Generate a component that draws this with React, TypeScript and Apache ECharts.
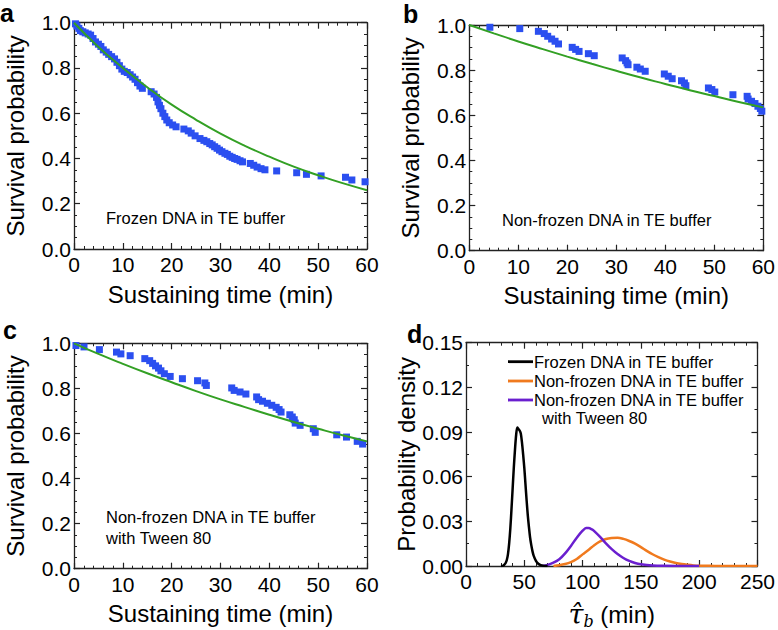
import React, { useEffect, useRef } from "react";
import * as echarts from "echarts";

// ---------- Panel a: frozen DNA in TE buffer ----------
const aTime = [0.3, 0.6, 1.0, 1.3, 1.8, 2.3, 2.9, 3.4, 3.9, 4.4, 5.0, 5.5, 6.0, 6.6, 7.1, 7.7, 8.3, 8.8, 9.3, 9.8, 10.3, 10.9, 11.5, 12.0, 12.5, 13.0, 13.5, 14.0, 15.8, 16.4, 16.9, 17.2, 17.5, 17.8, 18.2, 18.6, 19.0, 19.5, 20.2, 20.9, 22.5, 23.4, 24.0, 24.8, 25.8, 26.6, 27.2, 27.8, 28.3, 28.8, 29.3, 29.8, 30.3, 30.9, 31.4, 31.9, 32.4, 32.9, 33.4, 34.0, 34.5, 36.1, 36.8, 37.5, 38.3, 39.1, 41.5, 45.6, 47.6, 50.6, 55.6, 56.9, 59.6];
const aSurv = [0.995, 0.985, 0.975, 0.965, 0.96, 0.955, 0.95, 0.945, 0.93, 0.915, 0.905, 0.895, 0.88, 0.87, 0.86, 0.85, 0.84, 0.825, 0.81, 0.795, 0.785, 0.78, 0.77, 0.76, 0.75, 0.735, 0.72, 0.71, 0.695, 0.685, 0.67, 0.65, 0.635, 0.62, 0.6, 0.585, 0.57, 0.558, 0.548, 0.54, 0.53, 0.522, 0.512, 0.5, 0.488, 0.48, 0.474, 0.466, 0.46, 0.452, 0.445, 0.437, 0.43, 0.423, 0.418, 0.41, 0.405, 0.4, 0.396, 0.39, 0.385, 0.378, 0.37, 0.362, 0.355, 0.35, 0.345, 0.337, 0.33, 0.323, 0.317, 0.305, 0.297];
const fitTime = [0, 5, 10, 15, 20, 25, 30, 35, 40, 45, 50, 55, 60];
const aFit = [1.0, 0.893, 0.8, 0.715, 0.638, 0.571, 0.51, 0.456, 0.408, 0.364, 0.326, 0.291, 0.26];

// ---------- Panel b: non-frozen DNA in TE buffer ----------
const bTime = [4.2, 10.3, 14.1, 15.3, 16.0, 16.8, 17.5, 18.2, 21.0, 21.7, 22.4, 24.3, 25.5, 31.2, 31.9, 32.2, 32.4, 34.2, 34.9, 35.9, 39.8, 40.6, 41.4, 43.3, 43.9, 44.2, 48.8, 49.5, 50.1, 53.8, 56.7, 56.9, 57.6, 58.3, 58.9, 59.4, 59.7];
const bSurv = [0.99, 0.984, 0.972, 0.962, 0.95, 0.938, 0.928, 0.916, 0.901, 0.892, 0.883, 0.873, 0.864, 0.854, 0.842, 0.832, 0.824, 0.813, 0.805, 0.795, 0.783, 0.773, 0.762, 0.753, 0.743, 0.731, 0.721, 0.714, 0.703, 0.691, 0.684, 0.672, 0.662, 0.652, 0.64, 0.63, 0.618];
const bFit = [1.0, 0.963, 0.927, 0.893, 0.86, 0.828, 0.797, 0.767, 0.739, 0.711, 0.685, 0.659, 0.635];

// ---------- Panel c: non-frozen DNA with Tween 80 ----------
const cTime = [0.4, 2.05, 5.2, 8.7, 9.6, 11.5, 14.5, 15.5, 16.1, 16.7, 17.3, 17.8, 18.5, 19.7, 22.2, 25.3, 26.8, 27.1, 32.3, 32.8, 34.0, 35.2, 37.4, 37.8, 38.6, 39.6, 40.5, 41.4, 42.0, 42.4, 44.2, 44.7, 45.1, 45.3, 46.3, 49.0, 49.4, 53.8, 55.8, 58.0, 59.1];
const cSurv = [0.99, 0.984, 0.972, 0.961, 0.953, 0.945, 0.932, 0.923, 0.911, 0.9, 0.89, 0.878, 0.865, 0.853, 0.843, 0.834, 0.824, 0.813, 0.802, 0.791, 0.784, 0.775, 0.762, 0.75, 0.743, 0.734, 0.725, 0.716, 0.706, 0.695, 0.683, 0.673, 0.661, 0.646, 0.636, 0.621, 0.605, 0.594, 0.584, 0.565, 0.553];
const cFit = [1.0, 0.953, 0.909, 0.867, 0.827, 0.788, 0.751, 0.717, 0.683, 0.651, 0.621, 0.592, 0.565];

// ---------- Panel d: probability density of tau_b ----------
const dBlackX = [30, 32, 33, 34, 35, 36, 37, 38, 39, 40, 41, 42, 43, 44, 45, 46, 47, 48, 49, 50, 51, 52, 53, 54, 55, 56, 57, 58, 60, 62, 64, 66, 70];
const dBlackY = [0, 0.0003, 0.001, 0.002, 0.004, 0.008, 0.015, 0.025, 0.038, 0.052, 0.066, 0.078, 0.088, 0.093, 0.092, 0.091, 0.089, 0.083, 0.075, 0.066, 0.055, 0.044, 0.034, 0.026, 0.019, 0.014, 0.010, 0.007, 0.0035, 0.0015, 0.0006, 0.0002, 0];
const dOrangeX = [75, 80, 85, 90, 95, 100, 105, 110, 115, 120, 125, 130, 135, 140, 145, 150, 155, 160, 165, 170, 175, 180, 185, 190, 195, 200, 210, 220, 250];
const dOrangeY = [0, 0.0005, 0.0013, 0.0026, 0.0047, 0.0078, 0.0108, 0.014, 0.0165, 0.0181, 0.0188, 0.019, 0.0182, 0.0168, 0.015, 0.0127, 0.0102, 0.0079, 0.006, 0.0043, 0.003, 0.002, 0.0013, 0.0008, 0.0004, 0.0002, 0.0001, 0, 0];
const dPurpleX = [65, 70, 75, 80, 85, 90, 95, 100, 103, 105, 108, 110, 115, 120, 125, 130, 135, 140, 145, 150, 160, 170, 180, 200];
const dPurpleY = [0, 0.0007, 0.0022, 0.0045, 0.0085, 0.0135, 0.019, 0.0237, 0.0255, 0.0255, 0.0246, 0.0234, 0.0195, 0.0152, 0.0113, 0.008, 0.0054, 0.0034, 0.002, 0.0012, 0.0004, 0.0001, 0, 0];

const legendLabels = ["Frozen DNA in TE buffer", "Non-frozen DNA in TE buffer", "Non-frozen DNA in TE buffer", "with Tween 80"];
const annotA = "Frozen DNA in TE buffer";
const annotB = "Non-frozen DNA in TE buffer";
const annotC = ["Non-frozen DNA in TE buffer", "with Tween 80"];
const xTitle = "Sustaining time (min)";
const yTitleSurv = "Survival probability";
const yTitleDens = "Probability density";

const FONT = "'Liberation Sans', Arial, Helvetica, sans-serif";
const BLUE = "#2b4ff0";
const GREEN = "#33a024";
const ORANGE = "#f07a1e";
const PURPLE = "#6a1fcf";

const zip = (xs: number[], ys: number[]) => xs.map((x, i) => [x, ys[i]]);

function axisPair(g: number, min: number, max: number, interval: number, minor: number, isX: boolean, name: any, fmt: (v: number) => string, nameRich?: any) {
  const common = {
    type: "value",
    gridIndex: g,
    min,
    max,
    interval,
    splitLine: { show: false },
    axisLine: { show: true, onZero: false, lineStyle: { color: "#222", width: 1.3 } },
    axisTick: { show: true, inside: true, length: 6, lineStyle: { color: "#222", width: 1.2 } },
    minorTick: { show: true, splitNumber: minor, length: 3, lineStyle: { color: "#222", width: 1 } },
  };
  const main = {
    ...common,
    position: isX ? "bottom" : "left",
    name,
    nameLocation: "middle",
    nameGap: isX ? 33 : 47,
    nameTextStyle: { fontSize: 24, color: "#000", fontFamily: FONT, rich: nameRich },
    axisLabel: { show: true, fontSize: 21, color: "#000", fontFamily: FONT, margin: isX ? 5 : 3, formatter: fmt },
  };
  const mirror = {
    ...common,
    position: isX ? "top" : "right",
    axisLabel: { show: false },
  };
  return [main, mirror];
}

const f0 = (v: number) => String(Math.round(v));
const f1 = (v: number) => v.toFixed(1);
const f2 = (v: number) => v.toFixed(2);

function buildOption() {
  const grids = [
    { left: 74, top: 22.7, width: 293, height: 226.3 },
    { left: 469.3, top: 25, width: 294, height: 225.7 },
    { left: 74, top: 343.3, width: 293, height: 225.4 },
    { left: 466, top: 342.7, width: 295, height: 226 },
  ];
  const tauRich = {
    t: { fontSize: 27, fontStyle: "italic", fontFamily: "'DejaVu Serif', serif", color: "#000" },
    s: { fontSize: 16, fontStyle: "italic", fontFamily: "'DejaVu Serif', serif", color: "#000", padding: [14, 0, 0, 0] },
    m: { fontSize: 24, fontFamily: FONT, color: "#000" },
  };
  const xAxis = [
    ...axisPair(0, 0, 60, 10, 5, true, xTitle, f0),
    ...axisPair(1, 0, 60, 10, 5, true, xTitle, f0),
    ...axisPair(2, 0, 60, 10, 5, true, xTitle, f0),
    ...axisPair(3, 0, 250, 50, 5, true, "{t|\u03C4\u0302}{s|b}{m| (min)}", f0, tauRich),
  ];
  const yAxis = [
    ...axisPair(0, 0, 1, 0.2, 4, false, yTitleSurv, f1),
    ...axisPair(1, 0, 1, 0.2, 4, false, yTitleSurv, f1),
    ...axisPair(2, 0, 1, 0.2, 4, false, yTitleSurv, f1),
    ...axisPair(3, 0, 0.15, 0.03, 2, false, yTitleDens, f2),
  ];
  const scatter = (g: number, xs: number[], ys: number[]) => ({
    type: "scatter",
    xAxisIndex: 2 * g,
    yAxisIndex: 2 * g,
    symbol: "rect",
    symbolSize: 7,
    itemStyle: { color: BLUE, opacity: 1 },
    data: zip(xs, ys),
  });
  const fit = (g: number, ys: number[]) => ({
    type: "line",
    xAxisIndex: 2 * g,
    yAxisIndex: 2 * g,
    showSymbol: false,
    smooth: true,
    lineStyle: { color: GREEN, width: 2 },
    data: zip(fitTime, ys),
    z: 3,
  });
  const dens = (xs: number[], ys: number[], color: string) => ({
    type: "line",
    xAxisIndex: 6,
    yAxisIndex: 6,
    showSymbol: false,
    smooth: 0.3,
    lineStyle: { color, width: 2.5 },
    data: zip(xs, ys),
  });
  const txt = (x: number, y: number, text: string, size: number, weight = "normal") => ({
    type: "text",
    x,
    y,
    z: 100,
    style: { text, fontSize: size, fontWeight: weight, fontFamily: FONT, fill: "#000", align: "left", verticalAlign: "middle" },
  });
  const seg = (y: number, color: string) => ({
    type: "line",
    z: 100,
    shape: { x1: 508, y1: y, x2: 533, y2: y },
    style: { stroke: color, lineWidth: 2.8 },
  });
  return {
    animation: false,
    backgroundColor: "#fff",
    grid: grids.map((g) => ({ ...g, containLabel: false })),
    xAxis,
    yAxis,
    series: [
      scatter(0, aTime, aSurv),
      fit(0, aFit),
      scatter(1, bTime, bSurv),
      fit(1, bFit),
      scatter(2, cTime, cSurv),
      fit(2, cFit),
      dens(dOrangeX, dOrangeY, ORANGE),
      dens(dPurpleX, dPurpleY, PURPLE),
      dens(dBlackX, dBlackY, "#000"),
    ],
    graphic: [
      txt(0, 13, "a", 25, "bold"),
      txt(403, 13.5, "b", 25, "bold"),
      txt(3, 330, "c", 25, "bold"),
      txt(407, 334, "d", 25, "bold"),
      txt(106, 218, annotA, 16.5),
      txt(502, 220, annotB, 16.5),
      txt(106, 516.7, annotC[0], 16.5),
      txt(106, 538.3, annotC[1], 16.5),
      seg(361.7, "#000"),
      seg(381, ORANGE),
      seg(400, PURPLE),
      txt(534, 361.7, legendLabels[0], 16.5),
      txt(534, 381, legendLabels[1], 16.5),
      txt(534, 400, legendLabels[2], 16.5),
      txt(542, 418.3, legendLabels[3], 16.5),
    ],
  };
}

export default function App() {
  const ref = useRef<HTMLDivElement>(null);
  useEffect(() => {
    if (!ref.current) return;
    const chart = echarts.init(ref.current, null, { renderer: "svg" });
    chart.setOption(buildOption() as any);
    return () => chart.dispose();
  }, []);
  return (
    <div
      ref={ref}
      style={{ position: "absolute", left: 0, top: 0, width: 778, height: 630, background: "#fff" }}
    />
  );
}
